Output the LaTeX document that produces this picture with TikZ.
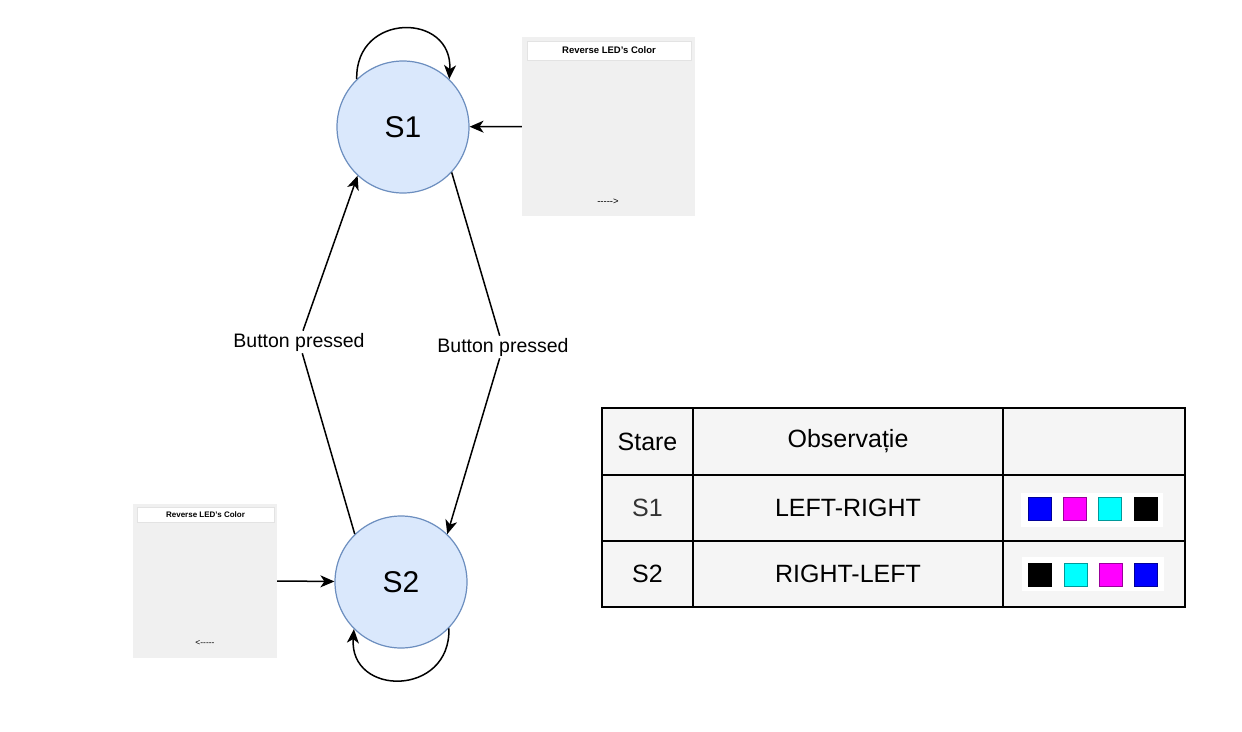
\documentclass[tikz,border=0pt]{standalone}
\usepackage{fontspec}
\setmainfont{Liberation Sans}
\usetikzlibrary{arrows.meta}
\definecolor{stfill}{HTML}{DAE8FC}
\definecolor{stdraw}{HTML}{6C8EBF}
\definecolor{imgbg}{HTML}{F0F0F0}
\definecolor{tblbg}{HTML}{F5F5F5}
\definecolor{titleline}{HTML}{E3E3E3}
\definecolor{sgray}{HTML}{333333}
\definecolor{ledblue}{HTML}{0000FF}
\definecolor{ledmag}{HTML}{FF00FF}
\definecolor{ledcyan}{HTML}{00FFFF}
\definecolor{ledblack}{HTML}{000000}
\begin{document}
\begin{tikzpicture}[x=1pt,y=-1pt,
  state/.style={circle,draw=stdraw,fill=stfill,line width=1.2pt,minimum size=132pt,inner sep=0pt,font=\fontsize{30}{36}\selectfont},
  arr/.style={-{Stealth[length=14pt,width=12pt,inset=4pt]},line width=1.5pt},
  lbl/.style={fill=white,inner sep=2pt,font=\fontsize{19.5}{23}\selectfont},
  imgbox/.style={fill=imgbg,draw=none,inner sep=0pt},
  titlebar/.style={fill=white,draw=titleline,line width=0.6pt,inner sep=0pt},
  cell/.style={draw=black,fill=tblbg,line width=1.6pt,inner sep=0pt,font=\fontsize{25}{30}\selectfont},
  swatch/.style={fill=white,draw=none,inner sep=0pt,minimum width=142pt,minimum height=34pt},
  led/.style={fill=#1,draw=#1!60!black,line width=0.6pt,inner sep=0pt,minimum size=23pt}
]
\useasboundingbox (0,0) rectangle (1242,731);
\fill[white] (0,0) rectangle (1242,731);

% states
\node[state] (S1) at (403,127) {S1};
\node[state] (S2) at (401,582) {S2};

% image boxes
\node[imgbox,minimum width=173pt,minimum height=179pt] (imgA) at (608.5,126.5) {};
\node[titlebar,minimum width=164pt,minimum height=19pt,font=\bfseries\fontsize{9.5}{11}\selectfont] (barA) at (609,50.5) {Reverse LED's Color};
\node[inner sep=0pt,font=\fontsize{9.5}{10}\selectfont] (txtA) at (608,202) {-\kern0pt-\kern0pt-\kern0pt-\kern0pt-\kern0pt>};

\node[imgbox,minimum width=144pt,minimum height=154pt] (imgB) at (205,581) {};
\node[titlebar,minimum width=137pt,minimum height=15pt,font=\bfseries\fontsize{8}{9}\selectfont] (barB) at (205.5,514.5) {Reverse LED's Color};
\node[inner sep=0pt,font=\fontsize{8.5}{9}\selectfont] (txtB) at (205,643) {<\kern0pt-\kern0pt-\kern0pt-\kern0pt-\kern0pt-};

% labels
\node[lbl] (L1) at (299,342) {Button pressed};
\node[lbl] (L2) at (503,347) {Button pressed};

% connectors
\draw[arr] (imgA.west) -- (S1);
\draw[arr] (imgB.east) -- (S2);
\draw[arr] (S2.134) -- (L1) -- (S1.227);
\draw[arr] (S1.317) -- (L2) -- (S2.46);
\draw[arr] (S1.134) .. controls (355,12) and (453,12) .. (S1.46);
\draw[arr] (S2.-44) .. controls (451,697) and (349,697) .. (S2.-135);

% table
\node[cell,minimum width=91pt,minimum height=67pt] (h1) at (647.5,441.5) {Stare};
\node[cell,minimum width=310pt,minimum height=67pt] (h2) at (848,441.5) {Observație};
\node[cell,minimum width=182pt,minimum height=67pt] (h3) at (1094,441.5) {};
\node[cell,minimum width=91pt,minimum height=66pt,text=sgray] (a1) at (647.5,508) {S1};
\node[cell,minimum width=310pt,minimum height=66pt] (a2) at (848,508) {LEFT-RIGHT};
\node[cell,minimum width=182pt,minimum height=66pt] (a3) at (1094,508) {};
\node[cell,minimum width=91pt,minimum height=66pt] (b1) at (647.5,574) {S2};
\node[cell,minimum width=310pt,minimum height=66pt] (b2) at (848,574) {RIGHT-LEFT};
\node[cell,minimum width=182pt,minimum height=66pt] (b3) at (1094,574) {};

% colour swatches
\node[swatch] (wa) at (1092,509.5) {};
\node[led=ledblue] (a3c1) at (1039.5,509) {};
\node[led=ledmag] (a3c2) at (1074.7,509) {};
\node[led=ledcyan] (a3c3) at (1110,509) {};
\node[led=ledblack] (a3c4) at (1145.3,509) {};
\node[swatch] (wb) at (1093,574) {};
\node[led=ledblack] (b3c1) at (1040,574.3) {};
\node[led=ledcyan] (b3c2) at (1075.3,574.3) {};
\node[led=ledmag] (b3c3) at (1110.6,574.3) {};
\node[led=ledblue] (b3c4) at (1146,574.3) {};
\end{tikzpicture}
\end{document}
